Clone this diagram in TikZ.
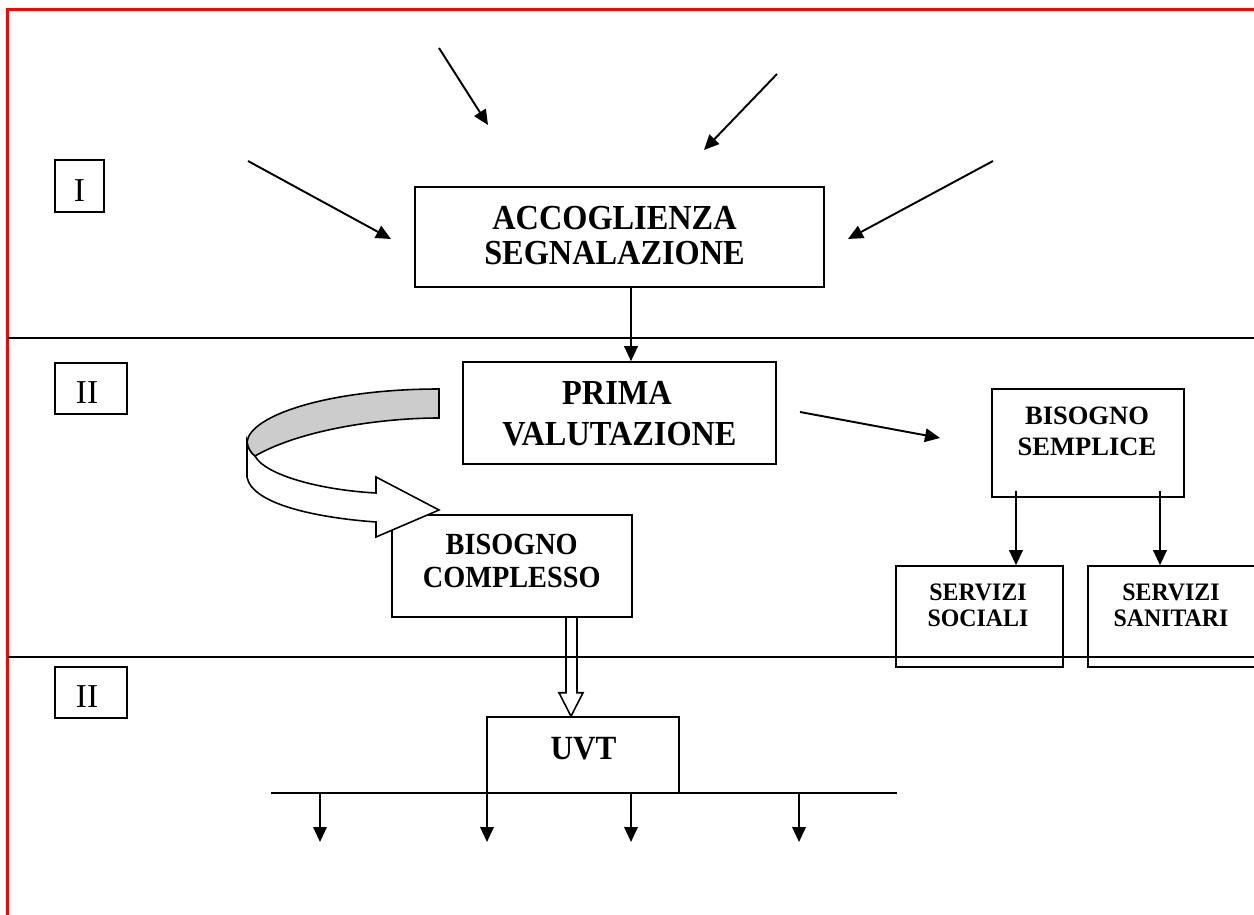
\documentclass[tikz,border=0pt]{standalone}
\usepackage{fontspec}
\setmainfont{Liberation Serif}
\usepackage{graphicx}
\usetikzlibrary{arrows.meta,calc}
\newcommand{\sx}[2]{\scalebox{#1}[1]{#2}}
\begin{document}
\begin{tikzpicture}[x=0.02cm,y=-0.02cm,
  box/.style={draw, line width=0.9pt, inner sep=0pt},
  txt/.style={anchor=base, inner sep=0pt},
  tbig/.style={txt, font=\fontsize{20}{20}\selectfont\bfseries},
  tmid/.style={txt, font=\fontsize{17.5}{17.5}\selectfont\bfseries},
  tuv/.style={txt, font=\fontsize{19.3}{19.3}\selectfont\bfseries},
  tsm/.style={txt, font=\fontsize{15.1}{15.1}\selectfont\bfseries},
  tsv/.style={txt, font=\fontsize{14.3}{14.3}\selectfont\bfseries},
  tlab/.style={txt, font=\fontsize{19}{19}\selectfont},
  arr/.style={line width=1.1pt, -{Triangle[length=0.3cm,width=0.27cm]}},
  sepline/.style={line width=0.8pt},
]
\useasboundingbox (0,0) rectangle (1254,915);

% frame
\draw[red, line width=1.5pt] (7.5,920) -- (7.5,9.5) -- (1260,9.5);

% separators
\draw[sepline] (8,338) -- (1256,338);
\draw[sepline] (8,657) -- (1256,657);

% label boxes
\node[box, minimum width=0.98cm, minimum height=1.04cm] (lI) at (79.5,186) {};
\node[tlab] (lIt) at (79.5,202) {I};
\node[box, minimum width=1.44cm, minimum height=1.02cm] (lIIa) at (91,388.5) {};
\node[tlab] (lIIat) at (87,403) {II};
\node[box, minimum width=1.44cm, minimum height=1.02cm] (lIIb) at (91,692.5) {};
\node[tlab] (lIIbt) at (87,707) {II};

% main boxes
\node[box, minimum width=8.18cm, minimum height=2.0cm] (acc) at (619.5,237) {};
\node[tbig] (acc1) at (614.5,230) {\sx{0.92}{ACCOGLIENZA}};
\node[tbig] (acc2) at (614.5,265) {\sx{0.92}{SEGNALAZIONE}};

\node[box, minimum width=6.26cm, minimum height=2.04cm] (prima) at (619.5,413) {};
\node[tbig] (pr1) at (617,404) {\sx{0.92}{PRIMA}};
\node[tbig] (pr2) at (619.5,445) {\sx{0.92}{VALUTAZIONE}};

\node[box, minimum width=3.84cm, minimum height=2.16cm] (semp) at (1088,443) {};
\node[tsm] (se1) at (1087,424) {BISOGNO};
\node[tsm] (se2) at (1087,455) {SEMPLICE};

\node[box, minimum width=4.8cm, minimum height=2.04cm] (comp) at (512,566) {};
\node[tmid] (co1) at (511.7,554) {\sx{0.92}{BISOGNO}};
\node[tmid] (co2) at (511.7,587) {\sx{0.92}{COMPLESSO}};

\node[box, minimum width=3.34cm, minimum height=2.02cm] (soc) at (979.5,616.5) {};
\node[tsv] (so1) at (978,600) {\sx{0.95}{SERVIZI}};
\node[tsv] (so2) at (978,626) {\sx{0.95}{SOCIALI}};

\node[box, minimum width=3.36cm, minimum height=2.02cm] (san) at (1172,616.5) {};
\node[tsv] (sa1) at (1171,600) {\sx{0.95}{SERVIZI}};
\node[tsv] (sa2) at (1171,626) {\sx{0.95}{SANITARI}};

\node[box, minimum width=3.84cm, minimum height=1.52cm] (uvt) at (583,755) {};
\node[tuv] (uvtt) at (583.5,759) {\sx{0.92}{UVT}};

% incoming arrows
\coordinate (a1s) at (439,48);  \coordinate (a1e) at (488,125);
\coordinate (a2s) at (777,74);  \coordinate (a2e) at (704,150);
\coordinate (a3s) at (248,161); \coordinate (a3e) at (391,239);
\coordinate (a4s) at (993,161); \coordinate (a4e) at (848,239);
\draw[arr] (a1s) -- (a1e);
\draw[arr] (a2s) -- (a2e);
\draw[arr] (a3s) -- (a3e);
\draw[arr] (a4s) -- (a4e);

% acc -> prima
\draw[arr] ($(acc.south)+(11.5,0)$) -- ($(prima.north)+(11.5,0)$);

% prima -> semplice
\coordinate (ps) at (800,412); \coordinate (pe) at (940,438);
\draw[arr] (ps) -- (pe);

% semplice -> servizi
\draw[arr] ($(semp.south)+(-72,-7)$) -- ($(soc.north)+(36.5,0)$);
\draw[arr] ($(semp.south)+(72,-7)$) -- ($(san.north)+(-12,0)$);

% curved arrow
\draw[line width=0.9pt, fill=white, line join=miter]
  (247,442) -- (247,477) .. controls (252,505) and (320,518) .. (376,522)
  -- (376,537) -- (439,510) -- (376,477) -- (376,493)
  .. controls (320,490) and (265,475) .. (255,456)
  .. controls (251,453) and (248,448) .. (247,442) -- cycle;
\draw[line width=0.9pt, fill=gray!40]
  (439,389) .. controls (330,389) and (250,415) .. (247,442)
  .. controls (248,448) and (251,453) .. (255,456)
  .. controls (300,430) and (380,418) .. (439,418) -- cycle;

% hollow arrow comp -> uvt
\draw[line width=0.9pt, line join=miter]
  ($(comp.south)+(54,0)$) -- ($(comp.south)+(54,75)$) -- ($(comp.south)+(47,75)$)
  -- ($(uvt.north)+(-12,0)$) -- ($(comp.south)+(71,75)$) -- ($(comp.south)+(65,75)$)
  -- ($(comp.south)+(65,0)$);

% bottom bar and arrows
\draw[line width=1.1pt] (271,793) -- (897,793);
\coordinate (b1) at (320,842); \coordinate (b2) at (487,842);
\coordinate (b3) at (631,842); \coordinate (b4) at (799,842);
\draw[arr] (b1 |- uvt.south) -- (b1);
\draw[arr] (b2 |- uvt.south) -- (b2);
\draw[arr] (b3 |- uvt.south) -- (b3);
\draw[arr] (b4 |- uvt.south) -- (b4);
\end{tikzpicture}
\end{document}
